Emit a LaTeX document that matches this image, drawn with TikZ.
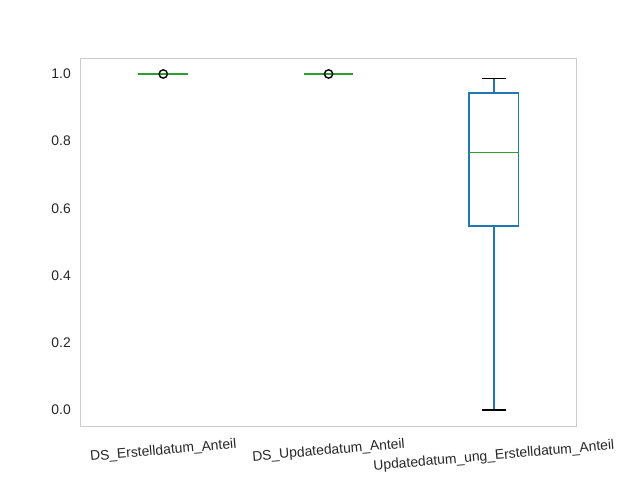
\documentclass[tikz,border=0pt]{standalone}
\usepackage{fontspec}
\setmainfont{Liberation Sans}
\usepackage{tikz}
\usetikzlibrary{positioning}

\definecolor{boxblue}{HTML}{1F77B4}
\definecolor{medgreen}{HTML}{2CA02C}
\definecolor{framegray}{HTML}{CCCCCC}
\definecolor{textgray}{HTML}{262626}

\begin{document}
\begin{tikzpicture}[
        x = 119.04pt,
        y = 241.92pt,
        ticklabel/.style = {font=\fontsize{10}{12}\selectfont, text=textgray, inner sep=0pt},
        boxline/.style = {draw=boxblue, line width=1pt},
        capline/.style = {draw=black, line width=1pt},
        medline/.style = {draw=medgreen, line width=1pt},
        flier/.style = {draw=black, line width=1pt, fill=none}
        ]
        \useasboundingbox (0.0125, -0.2083) rectangle (3.8836, 1.2202);
        \draw[framegray, line width=0.8pt] (0.5, -0.0497) rectangle (3.5, 1.0467);
        % y axis
        \foreach \v [count=\i] in {0.0, 0.2, 0.4, 0.6, 0.8, 1.0}
            \node[ticklabel, anchor=east] (y\i) at (0.442, \v) {\v};
        % boxes at 1.0
        \foreach \p in {1, 2} {
            \draw[boxline] (\p-0.15, 1) -- (\p+0.15, 1);
            \draw[capline] (\p-0.075, 1) -- (\p+0.075, 1);
            \draw[medline] (\p-0.15, 1) -- (\p+0.15, 1);
            \draw[flier] (\p, 1) circle[radius=3pt];
        }
        % third box
        \draw[boxline] (3, 0) -- (3, 0.548);
        \draw[boxline] (3, 0.943) -- (3, 0.987);
        \draw[capline] (2.925, 0) -- (3.075, 0);
        \draw[capline] (2.925, 0.987) -- (3.075, 0.987);
        \draw[boxline] (2.85, 0.548) rectangle (3.15, 0.943);
        \draw[medline] (2.85, 0.767) -- (3.15, 0.767);
        % x axis
        \node[ticklabel, rotate=5] (x1) at (1, -0.122) {DS\_Erstelldatum\_Anteil};
        \node[ticklabel, rotate=5] (x2) at (2, -0.122) {DS\_Updatedatum\_Anteil};
        \node[ticklabel, rotate=5] (x3) at (3, -0.138) {Updatedatum\_ung\_Erstelldatum\_Anteil};
    \end{tikzpicture}
\end{document}
